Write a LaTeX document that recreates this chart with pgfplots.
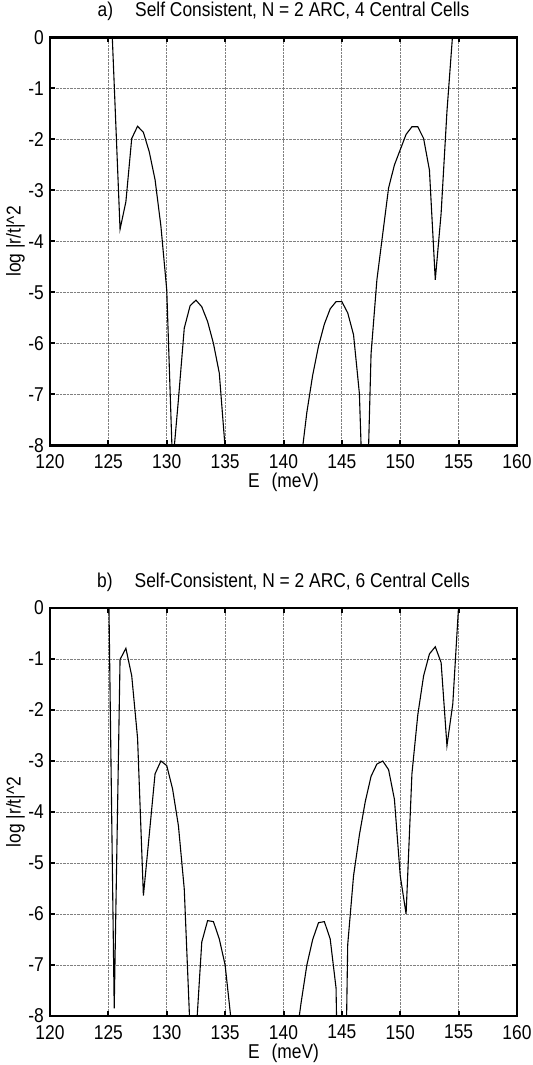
\documentclass[border=0pt]{standalone}
\usepackage{pgfplots}
\pgfplotsset{compat=1.18}
\usepackage{fontspec}
\setmainfont{Liberation Sans}[FakeStretch=0.87]
\pgfplotstableread{
E v
125.0 1.9
125.5 -0.92
126.0 -3.76
126.5 -3.22
127.0 -1.98
127.5 -1.74
128.0 -1.86
128.5 -2.24
129.0 -2.79
129.5 -3.7
130.0 -4.95
130.5 -8.4
131.0 -7.1
131.5 -5.70
132.0 -5.26
132.5 -5.15
133.0 -5.28
133.5 -5.57
134.0 -6.0
134.5 -6.58
135.0 -8.05
135.5 -9.5
136.0 -10.5
137.0 -11.0
138.0 -11.5
139.0 -11.0
140.0 -10.5
141.0 -9.5
141.5 -8.3
142.0 -7.35
142.5 -6.62
143.0 -6.05
143.5 -5.62
144.0 -5.32
144.5 -5.18
145.0 -5.18
145.5 -5.4
146.0 -5.83
146.5 -6.98
147.0 -10.5
147.5 -6.2
148.0 -4.75
148.5 -3.85
149.0 -2.95
149.5 -2.5
150.0 -2.2
150.5 -1.9
151.0 -1.75
151.5 -1.75
152.0 -1.98
152.5 -2.6
153.0 -4.75
153.5 -3.45
154.0 -1.45
154.5 0.1
}\dataA
\pgfplotstableread{
E v
125.0 0.9
125.5 -7.85
126.0 -1.01
126.5 -0.79
127.0 -1.33
127.5 -2.55
128.0 -5.64
128.5 -4.45
129.0 -3.25
129.5 -3.0
130.0 -3.09
130.5 -3.55
131.0 -4.27
131.5 -5.51
132.0 -8.3
132.5 -8.4
133.0 -6.55
133.5 -6.13
134.0 -6.15
134.5 -6.49
135.0 -7.0
135.5 -8.06
136.0 -9.5
137.0 -10.5
138.0 -11.0
139.0 -10.5
140.0 -9.5
141.0 -8.6
141.5 -7.75
142.0 -7.0
142.5 -6.5
143.0 -6.17
143.5 -6.15
144.0 -6.49
144.5 -7.45
145.0 -14
145.5 -6.6
146.0 -5.25
146.5 -4.45
147.0 -3.8
147.5 -3.3
148.0 -3.06
148.5 -3.0
149.0 -3.17
149.5 -3.75
150.0 -5.25
150.5 -6.0
151.0 -3.25
151.5 -2.1
152.0 -1.33
152.5 -0.9
153.0 -0.76
153.5 -1.07
154.0 -2.7
154.5 -1.88
155.0 0.05
}\dataB
\newcommand{\ff}{\fontsize{20bp}{23bp}\selectfont}
\pgfplotsset{myax/.style={
  scale only axis, width=467bp, height=408bp, anchor=south west,
  xmin=120, xmax=160, ymin=-8, ymax=0,
  xtick={120,125,130,135,140,145,150,155,160},
  xticklabels={120,125,130,135,140,145,150,155,160},
  ytick={-8,-7,-6,-5,-4,-3,-2,-1,0},
  yticklabels={-8,-7,-6,-5,-4,-3,-2,-1,0},
  tick align=inside, major tick length=5bp,
  every tick/.style={black, line width=2bp},
  axis line style={black, line width=2.2bp},
  grid=major, major grid style={densely dotted, gray, line width=0.8bp},
  tick label style={font=\ff},
  yticklabel style={inner sep=0pt, xshift=-6bp},
  xticklabel style={inner sep=0pt, yshift=-9bp},
  label style={font=\ff},
  title style={font=\ff, at={(0.5,1)}, anchor=base, yshift=15bp},
  xlabel={E\hspace{0.6em}(meV)},
  ylabel={log |r/t|\textasciicircum 2},
  xlabel style={inner sep=0pt, yshift=-4bp},
}}
\begin{document}
\begin{tikzpicture}
\path[use as bounding box] (0,0) rectangle (533bp,1065bp);
\begin{axis}[myax, at={(50bp,619.5bp)},
  title={a)\hspace{1.1em}Self Consistent, N = 2 ARC, 4 Central Cells}]
\addplot[black, line width=1.1bp] table[x=E, y=v] {\dataA};
\end{axis}
\begin{axis}[myax, at={(50bp,49bp)},
  title={b)\hspace{1.1em}Self-Consistent, N = 2 ARC, 6 Central Cells}]
\addplot[black, line width=1.1bp] table[x=E, y=v] {\dataB};
\end{axis}
\end{tikzpicture}
\end{document}
